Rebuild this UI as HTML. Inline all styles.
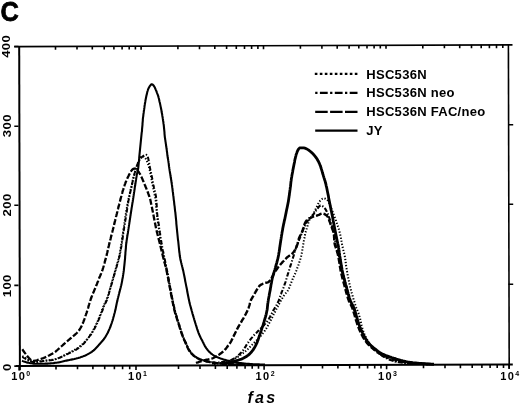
<!DOCTYPE html>
<html><head><meta charset="utf-8"><style>
html,body{margin:0;padding:0;background:#fff;}
body{width:520px;height:405px;overflow:hidden;}
svg{display:block;}
text{font-family:"Liberation Sans",Arial,sans-serif;font-weight:bold;fill:#000;}
</style></head><body>
<svg width="520" height="405" viewBox="0 0 520 405">
<rect width="520" height="405" fill="#fff"/>
<g fill="none" stroke="#000" stroke-linecap="butt">
<path d="M19.2,46.2L19.9,370.2" stroke-width="2"/>
<path d="M14.2,46.6L512.5,44.9" stroke-width="1.6"/>
<path d="M508.4,44.9L509.2,368.5" stroke-width="1.6"/>
<path d="M16,366L512.8,364.5" stroke-width="1.9"/>
<path d="M56.0,365.6V369.4 M77.5,365.5V369.3 M92.9,365.5V369.3 M104.7,365.4V369.2 M114.4,365.4V369.2 M122.6,365.4V369.2 M129.7,365.4V369.2 M136.0,365.3V369.9 M178.5,365.2V369.0 M200.0,365.1V368.9 M215.4,365.1V368.9 M227.2,365.1V368.9 M236.9,365.0V368.8 M245.1,365.0V368.8 M252.2,365.0V368.8 M258.5,365.0V368.8 M301.0,364.8V368.6 M322.5,364.8V368.6 M337.9,364.7V368.5 M349.7,364.7V368.5 M359.4,364.7V368.5 M367.6,364.6V368.4 M374.7,364.6V368.4 M381.0,364.6V368.4 M423.5,364.5V368.3 M445.0,364.4V368.2 M460.4,364.4V368.2 M472.2,364.3V368.1 M481.9,364.3V368.1 M490.1,364.3V368.1 M497.2,364.2V368.0 M503.5,364.2V368.0 M19.1,365.7V370.4 M264.1,365.0V369.7 M386.6,364.6V369.3 M509.1,364.2V368.9 M55.5,46.2V49.7 M77.0,46.1V49.6 M92.3,46.0V49.5 M104.2,46.0V49.5 M113.9,46.0V49.5 M122.1,45.9V49.4 M129.2,45.9V49.4 M135.4,45.9V49.4 M177.9,45.7V49.2 M199.5,45.7V49.2 M214.8,45.6V49.1 M226.6,45.6V49.1 M236.3,45.5V49.0 M244.5,45.5V49.0 M251.6,45.5V49.0 M257.9,45.5V49.0 M300.4,45.3V48.8 M321.9,45.3V48.8 M337.2,45.2V48.7 M349.1,45.2V48.7 M358.8,45.1V48.6 M367.0,45.1V48.6 M374.1,45.1V48.6 M380.3,45.1V48.6 M422.8,44.9V48.4 M444.4,44.8V48.3 M459.7,44.8V48.3 M471.5,44.7V48.2 M481.2,44.7V48.2 M489.4,44.7V48.2 M496.5,44.7V48.2 M502.8,44.6V48.1 M141.1,45.9V49.7 M263.5,45.4V49.2 M386.0,45.0V48.8 M14.3,46.5H18.5 M14.3,126.3H18.5 M14.3,205.2H18.5 M14.3,285.4H18.5 M14.3,366.1H18.5 M508.4,124.8H513.2 M508.4,204.3H513.2 M508.4,284.2H513.2" stroke-width="1.6"/>
</g>
<text transform="translate(0.40,20.80) scale(0.900,1)" font-size="28.20" stroke="#000" stroke-width="0.80">C</text>
<text transform="translate(10.30,46.30) rotate(-90) scale(1.170,1)" text-anchor="middle" font-size="11.30" letter-spacing="0.30">400</text>
<text transform="translate(10.50,125.70) rotate(-90) scale(1.170,1)" text-anchor="middle" font-size="11.30" letter-spacing="0.30">300</text>
<text transform="translate(10.70,204.95) rotate(-90) scale(1.170,1)" text-anchor="middle" font-size="11.30" letter-spacing="0.30">200</text>
<text transform="translate(11.10,285.75) rotate(-90) scale(1.170,1)" text-anchor="middle" font-size="11.30" letter-spacing="0.30">100</text>
<text transform="translate(11.00,367.25) rotate(-90) scale(1.170,1)" text-anchor="middle" font-size="11.30" letter-spacing="0.30">0</text>
<text x="11.20" y="379.80" font-size="11.00" letter-spacing="1.40">10<tspan font-size="7.00" dy="-3.40">0</tspan></text>
<text x="128.00" y="379.80" font-size="11.00" letter-spacing="1.40">10<tspan font-size="7.00" dy="-3.40">1</tspan></text>
<text x="255.60" y="379.80" font-size="11.00" letter-spacing="1.40">10<tspan font-size="7.00" dy="-3.40">2</tspan></text>
<text x="378.00" y="379.80" font-size="11.00" letter-spacing="1.40">10<tspan font-size="7.00" dy="-3.40">3</tspan></text>
<text x="500.30" y="379.80" font-size="11.00" letter-spacing="1.40">10<tspan font-size="7.00" dy="-3.40">4</tspan></text>
<text x="247.50" y="403.20" font-size="16.00" font-style="italic" letter-spacing="2.20">fas</text>
<text transform="translate(366.30,78.60) scale(1.087,1)" font-size="12.00" letter-spacing="0.25">HSC536N</text>
<text transform="translate(366.30,97.30) scale(1.087,1)" font-size="12.00" letter-spacing="0.25">HSC536N neo</text>
<text transform="translate(366.30,116.00) scale(1.087,1)" font-size="12.00" letter-spacing="0.25">HSC536N FAC/neo</text>
<text transform="translate(366.30,134.70) scale(1.087,1)" font-size="12.00" letter-spacing="0.25">JY</text>
<g fill="none" stroke="#000" stroke-width="2.2">
<path d="M314.8,73.9H357.5" stroke-dasharray="2.6 2.4"/>
<path d="M315.2,92.9H357.5" stroke-dasharray="2.3 2.4 7.8 2.4"/>
<path d="M315.2,111.8H357.5" stroke-dasharray="12.5 2.4"/>
<path d="M315.2,130.6H357.5"/>
</g>
<g fill="none" stroke="#000" stroke-linejoin="round">
<path d="M22.3,356.0 23.2,356.5 24.0,357.0 24.9,357.5 25.8,358.0 26.6,358.5 27.5,359.1 28.3,359.6 29.1,360.2 30.0,360.7 30.9,361.1 31.9,361.3 32.8,361.6 33.8,361.7 34.8,361.8 35.8,361.8 36.8,361.7 37.8,361.5 38.8,361.4 39.8,361.2 40.8,361.1 41.8,361.0 42.8,360.9 43.8,360.8 44.8,360.6 45.8,360.5 46.8,360.4 47.8,360.3 48.8,360.2 49.8,360.1 50.8,360.0 51.7,359.8 52.7,359.7 53.7,359.5 54.7,359.2 55.7,359.0 56.6,358.6 57.6,358.3 58.5,358.0 59.4,357.6 60.4,357.2 61.3,356.8 62.2,356.4 63.1,355.9 64.0,355.5 64.9,355.0 65.7,354.6 66.6,354.1 67.5,353.6 68.4,353.2 69.3,352.7 70.2,352.2 71.1,351.8 72.0,351.3 72.9,350.9 73.8,350.4 74.6,349.9 75.5,349.4 76.4,348.9 77.2,348.4 78.0,347.8 78.8,347.2 79.6,346.6 80.4,346.0 81.2,345.4 82.0,344.7 82.7,344.0 83.4,343.3 84.1,342.6 84.8,341.9 85.5,341.1 86.1,340.4 86.8,339.6 87.4,338.8 88.0,338.1 88.7,337.3 89.2,336.5 89.8,335.6 90.4,334.8 91.0,334.0 91.5,333.1 92.0,332.3 92.5,331.4 93.1,330.6 93.5,329.7 94.0,328.8 94.5,327.9 94.9,327.0 95.4,326.1 95.8,325.2 96.2,324.3 96.7,323.4 97.1,322.5 97.5,321.6 97.9,320.7 98.3,319.7 98.6,318.8 99.0,317.9 99.4,316.9 99.7,316.0 100.1,315.1 100.5,314.1 100.8,313.2 101.2,312.3 101.5,311.3 101.9,310.4 102.3,309.5 102.6,308.5 103.0,307.6 103.3,306.7 103.7,305.7 104.1,304.8 104.5,303.9 104.9,303.0 105.4,302.1 105.8,301.1 106.2,300.2 106.5,299.3 106.9,298.4 107.2,297.4 107.5,296.5 107.9,295.5 108.2,294.6 108.5,293.6 108.8,292.7 109.1,291.7 109.4,290.7 109.7,289.8 110.0,288.8 110.3,287.9 110.6,286.9 110.9,286.0 111.1,285.0 111.4,284.0 111.7,283.1 112.0,282.1 112.2,281.1 112.5,280.2 112.8,279.2 113.1,278.2 113.3,277.3 113.6,276.3 113.9,275.4 114.2,274.4 114.5,273.4 114.7,272.5 115.0,271.5 115.3,270.5 115.6,269.6 115.8,268.6 116.1,267.6 116.4,266.7 116.7,265.7 116.9,264.8 117.2,263.8 117.5,262.8 117.8,261.9 118.1,260.9 118.3,259.9 118.6,259.0 118.8,258.0 119.1,257.0 119.3,256.1 119.5,255.1 119.7,254.1 119.9,253.1 120.0,252.1 120.2,251.1 120.4,250.1 120.5,249.1 120.7,248.2 120.8,247.2 121.0,246.2 121.1,245.2 121.3,244.2 121.5,243.2 121.6,242.2 121.8,241.2 121.9,240.2 122.1,239.2 122.2,238.3 122.4,237.3 122.5,236.3 122.6,235.3 122.8,234.3 122.9,233.3 123.1,232.3 123.2,231.3 123.4,230.3 123.5,229.3 123.7,228.3 123.8,227.3 124.0,226.4 124.1,225.4 124.2,224.4 124.4,223.4 124.5,222.4 124.7,221.4 124.8,220.4 125.0,219.4 125.1,218.4 125.3,217.4 125.4,216.4 125.6,215.4 125.7,214.5 125.9,213.5 126.1,212.5 126.2,211.5 126.4,210.5 126.5,209.5 126.7,208.5 126.9,207.5 127.1,206.6 127.2,205.6 127.4,204.6 127.6,203.6 127.8,202.6 128.0,201.6 128.2,200.6 128.4,199.7 128.6,198.7 128.8,197.7 129.0,196.7 129.3,195.7 129.5,194.8 129.7,193.8 129.9,192.8 130.2,191.8 130.4,190.9 130.6,189.9 130.9,188.9 131.1,187.9 131.3,187.0 131.6,186.0 131.8,185.0 132.0,184.0 132.2,183.1 132.4,182.1 132.6,181.1 132.8,180.1 133.1,179.1 133.3,178.2 133.5,177.2 133.7,176.2 134.0,175.2 134.3,174.3 134.5,173.3 134.8,172.3 135.1,171.4 135.4,170.4 135.7,169.5 136.0,168.5 136.3,167.6 136.6,166.6 136.9,165.7 137.2,164.7 137.5,163.8 137.9,162.8 138.2,161.9 138.6,161.0 139.0,160.0 139.4,159.1 139.9,158.2 140.5,157.4 141.3,156.8 142.2,156.3 143.1,156.4 144.0,156.9 144.8,157.5 145.4,158.3 146.0,159.1 146.5,160.0 146.9,160.9 147.2,161.9 147.6,162.8 147.9,163.8 148.2,164.7 148.5,165.7 148.8,166.6 149.1,167.6 149.3,168.6 149.6,169.5 149.8,170.5 150.0,171.5 150.2,172.5 150.4,173.5 150.6,174.4 150.8,175.4 151.0,176.4 151.2,177.4 151.4,178.4 151.6,179.4 151.7,180.4 151.9,181.3 152.1,182.3 152.3,183.3 152.5,184.3 152.7,185.3 152.9,186.3 153.1,187.2 153.3,188.2 153.5,189.2 153.7,190.2 153.9,191.2 154.1,192.1 154.3,193.1 154.5,194.1 154.7,195.1 154.9,196.1 155.1,197.0 155.3,198.0 155.5,199.0 155.6,200.0 155.7,201.0 155.8,202.0 155.9,203.0 156.0,204.0 156.1,205.0 156.2,206.0 156.2,207.0 156.3,208.0 156.4,209.0 156.5,210.0 156.6,211.0 156.7,212.0 156.8,213.0 156.9,214.0 157.0,215.0 157.1,216.0 157.2,217.0 157.4,218.0 157.5,219.0 157.6,220.0 157.8,220.9 157.9,221.9 158.0,222.9 158.2,223.9 158.3,224.9 158.5,225.9 158.6,226.9 158.8,227.9 158.9,228.9 159.1,229.9 159.2,230.9 159.3,231.9 159.5,232.9 159.6,233.8 159.8,234.8 159.9,235.8 160.0,236.8 160.2,237.8 160.3,238.8 160.5,239.8 160.6,240.8 160.8,241.8 161.0,242.8 161.1,243.8 161.3,244.7 161.5,245.7 161.6,246.7 161.8,247.7 162.0,248.7 162.2,249.7 162.3,250.7 162.5,251.6 162.7,252.6 162.9,253.6 163.1,254.6 163.3,255.6 163.5,256.6 163.7,257.5 163.9,258.5 164.1,259.5 164.3,260.5 164.5,261.5 164.8,262.4 165.0,263.4 165.3,264.4 165.5,265.4 165.7,266.3 166.0,267.3 166.2,268.3 166.4,269.3 166.7,270.2 166.9,271.2 167.1,272.2 167.3,273.2 167.5,274.2 167.7,275.1 167.9,276.1 168.1,277.1 168.2,278.1 168.4,279.1 168.6,280.1 168.8,281.0 169.0,282.0 169.2,283.0 169.4,284.0 169.5,285.0 169.7,286.0 169.9,287.0 170.1,287.9 170.3,288.9 170.5,289.9 170.7,290.9 170.8,291.9 171.0,292.9 171.2,293.9 171.4,294.8 171.6,295.8 171.8,296.8 172.0,297.8 172.1,298.8 172.3,299.8 172.5,300.7 172.8,301.7 173.0,302.7 173.2,303.7 173.4,304.7 173.6,305.6 173.8,306.6 174.1,307.6 174.3,308.6 174.5,309.5 174.8,310.5 175.0,311.5 175.3,312.4 175.6,313.4 175.8,314.4 176.1,315.3 176.4,316.3 176.7,317.2 177.0,318.2 177.3,319.2 177.6,320.1 177.9,321.1 178.2,322.0 178.5,323.0 178.8,323.9 179.1,324.9 179.4,325.9 179.7,326.8 180.0,327.8 180.3,328.7 180.6,329.7 180.9,330.7 181.2,331.6 181.5,332.6 181.8,333.5 182.2,334.4 182.5,335.4 182.9,336.3 183.2,337.3 183.6,338.2 184.0,339.1 184.4,340.0 184.8,340.9 185.2,341.9 185.6,342.8 186.0,343.7 186.4,344.6 186.9,345.5 187.3,346.4 187.7,347.3 188.1,348.2 188.6,349.1 189.0,350.0 189.6,350.9 190.1,351.7 190.8,352.5 191.4,353.2 192.1,354.0 192.8,354.7 193.5,355.4 194.3,356.0 195.1,356.6 195.9,357.2 196.8,357.7 197.7,358.2 198.6,358.6 199.5,359.0 200.4,359.4 201.3,359.8 202.3,360.1 203.2,360.4 204.2,360.7 205.2,361.0 206.1,361.2 207.1,361.4 208.1,361.7 209.1,361.9 210.1,362.0 211.0,362.2 212.0,362.4 213.0,362.5 214.0,362.7 215.0,362.8 216.0,362.9 217.0,363.1 218.0,363.2 219.0,363.3 220.0,363.4 221.0,363.5 222.0,363.6 223.0,363.7 224.0,363.8 225.0,363.9 226.0,363.9 227.0,364.0 228.0,364.1 229.0,364.1 230.0,364.2 231.0,364.2 232.0,364.3 233.0,364.3 234.0,364.4 235.0,364.4 236.0,364.5 237.0,364.5 238.0,364.5 239.0,364.6 240.0,364.6 241.0,364.6 242.0,364.6 243.0,364.7 244.0,364.7 245.0,364.7" stroke-width="2" stroke-dasharray="1.3 1.8"/>
<path d="M22.3,357.0 23.2,357.5 24.0,358.0 24.9,358.5 25.8,359.0 26.7,359.4 27.6,359.9 28.4,360.5 29.3,361.0 30.2,361.4 31.2,361.6 32.1,361.8 33.1,361.9 34.1,362.0 35.1,362.0 36.1,362.0 37.1,361.9 38.1,361.7 39.1,361.6 40.1,361.5 41.1,361.4 42.1,361.2 43.1,361.1 44.1,360.9 45.1,360.8 46.1,360.7 47.1,360.6 48.1,360.5 49.1,360.4 50.1,360.3 51.1,360.2 52.1,360.1 53.1,359.9 54.1,359.7 55.0,359.4 56.0,359.1 56.9,358.8 57.9,358.4 58.8,358.1 59.7,357.7 60.7,357.3 61.6,356.9 62.5,356.5 63.4,356.0 64.3,355.6 65.2,355.2 66.1,354.7 67.0,354.3 67.9,353.8 68.8,353.4 69.7,352.9 70.6,352.5 71.5,352.1 72.4,351.6 73.3,351.2 74.2,350.7 75.1,350.3 75.9,349.8 76.8,349.2 77.6,348.7 78.5,348.1 79.3,347.5 80.1,346.9 80.8,346.3 81.6,345.6 82.4,344.9 83.1,344.2 83.8,343.5 84.4,342.8 85.1,342.0 85.7,341.2 86.4,340.5 87.0,339.7 87.6,338.9 88.2,338.1 88.8,337.3 89.4,336.5 90.0,335.7 90.6,334.9 91.2,334.1 91.8,333.2 92.3,332.4 92.9,331.5 93.4,330.7 93.9,329.8 94.3,328.9 94.8,328.0 95.3,327.1 95.7,326.2 96.1,325.3 96.6,324.4 97.0,323.5 97.4,322.6 97.8,321.7 98.2,320.8 98.6,319.9 99.0,318.9 99.4,318.0 99.8,317.1 100.2,316.2 100.5,315.2 100.9,314.3 101.3,313.4 101.7,312.4 102.0,311.5 102.4,310.6 102.7,309.6 103.1,308.7 103.4,307.7 103.8,306.8 104.1,305.9 104.5,304.9 105.0,304.0 105.4,303.1 105.9,302.3 106.3,301.4 106.8,300.4 107.1,299.5 107.5,298.6 107.8,297.6 108.1,296.6 108.3,295.7 108.6,294.7 108.9,293.7 109.1,292.8 109.4,291.8 109.6,290.8 109.9,289.9 110.2,288.9 110.4,287.9 110.7,287.0 111.0,286.0 111.3,285.0 111.6,284.1 111.8,283.1 112.1,282.2 112.4,281.2 112.7,280.2 113.0,279.3 113.2,278.3 113.5,277.3 113.8,276.4 114.1,275.4 114.4,274.4 114.6,273.5 114.9,272.5 115.2,271.6 115.5,270.6 115.7,269.6 116.0,268.7 116.3,267.7 116.6,266.7 116.8,265.8 117.1,264.8 117.4,263.8 117.7,262.9 118.0,261.9 118.3,261.0 118.5,260.0 118.8,259.0 119.0,258.0 119.3,257.1 119.5,256.1 119.7,255.1 119.9,254.1 120.1,253.1 120.3,252.2 120.5,251.2 120.7,250.2 120.8,249.2 121.0,248.2 121.2,247.2 121.4,246.2 121.5,245.2 121.7,244.3 121.9,243.3 122.0,242.3 122.2,241.3 122.3,240.3 122.5,239.3 122.6,238.3 122.8,237.3 122.9,236.3 123.0,235.3 123.2,234.3 123.3,233.3 123.5,232.3 123.6,231.4 123.8,230.4 123.9,229.4 124.1,228.4 124.2,227.4 124.4,226.4 124.5,225.4 124.7,224.4 124.9,223.4 125.0,222.4 125.2,221.4 125.3,220.5 125.5,219.5 125.7,218.5 125.8,217.5 126.0,216.5 126.2,215.5 126.3,214.5 126.5,213.5 126.6,212.5 126.8,211.5 126.9,210.6 127.1,209.6 127.2,208.6 127.4,207.6 127.5,206.6 127.7,205.6 127.9,204.6 128.0,203.6 128.2,202.6 128.3,201.6 128.5,200.6 128.7,199.7 128.9,198.7 129.1,197.7 129.3,196.7 129.5,195.7 129.7,194.7 129.9,193.8 130.2,192.8 130.4,191.8 130.6,190.8 130.8,189.9 131.0,188.9 131.3,187.9 131.5,186.9 131.7,185.9 131.9,185.0 132.1,184.0 132.3,183.0 132.5,182.0 132.8,181.0 133.0,180.1 133.2,179.1 133.4,178.1 133.7,177.1 133.9,176.1 134.1,175.2 134.4,174.2 134.6,173.2 134.9,172.3 135.1,171.3 135.4,170.3 135.7,169.4 136.0,168.4 136.3,167.5 136.6,166.5 137.0,165.6 137.3,164.6 137.7,163.7 138.1,162.8 138.6,161.9 139.0,161.0 139.6,160.1 140.1,159.3 140.7,158.5 141.3,157.7 142.0,157.0 142.8,156.3 143.6,155.7 144.4,155.2 145.4,155.0 146.4,154.8 147.2,155.4 147.6,156.3 147.9,157.2 148.2,158.2 148.4,159.2 148.6,160.1 148.8,161.1 149.0,162.1 149.2,163.1 149.3,164.1 149.5,165.1 149.7,166.1 149.8,167.1 150.0,168.0 150.2,169.0 150.4,170.0 150.6,171.0 150.9,172.0 151.1,173.0 151.3,173.9 151.5,174.9 151.7,175.9 151.9,176.9 152.1,177.9 152.3,178.8 152.5,179.8 152.6,180.8 152.8,181.8 153.0,182.8 153.1,183.8 153.3,184.8 153.6,185.8 153.8,186.7 154.0,187.7 154.3,188.7 154.6,189.6 154.8,190.6 155.0,191.6 155.2,192.6 155.4,193.6 155.6,194.5 155.8,195.5 155.9,196.5 156.1,197.5 156.2,198.5 156.3,199.5 156.4,200.5 156.5,201.5 156.5,202.5 156.6,203.5 156.7,204.5 156.7,205.5 156.8,206.5 156.8,207.5 156.9,208.5 156.9,209.5 157.0,210.5 157.1,211.5 157.1,212.5 157.2,213.5 157.3,214.5 157.4,215.5 157.5,216.5 157.7,217.5 157.8,218.5 157.9,219.5 158.1,220.5 158.3,221.5 158.4,222.5 158.6,223.5 158.7,224.5 158.9,225.4 159.0,226.4 159.2,227.4 159.3,228.4 159.5,229.4 159.6,230.4 159.8,231.4 159.9,232.4 160.1,233.4 160.2,234.4 160.3,235.4 160.5,236.4 160.6,237.4 160.8,238.4 160.9,239.3 161.1,240.3 161.2,241.3 161.4,242.3 161.5,243.3 161.7,244.3 161.9,245.3 162.1,246.3 162.3,247.3 162.5,248.2 162.6,249.2 162.8,250.2 163.1,251.2 163.3,252.2 163.5,253.2 163.7,254.1 163.9,255.1 164.1,256.1 164.3,257.1 164.5,258.1 164.7,259.0 164.9,260.0 165.1,261.0 165.3,262.0 165.5,263.0 165.7,264.0 165.9,264.9 166.1,265.9 166.3,266.9 166.5,267.9 166.7,268.9 166.9,269.9 167.1,270.8 167.3,271.8 167.5,272.8 167.7,273.8 167.8,274.8 168.0,275.8 168.2,276.8 168.4,277.7 168.6,278.7 168.8,279.7 168.9,280.7 169.1,281.7 169.3,282.7 169.5,283.7 169.7,284.7 169.9,285.6 170.1,286.6 170.2,287.6 170.4,288.6 170.6,289.6 170.8,290.6 171.0,291.6 171.2,292.5 171.3,293.5 171.5,294.5 171.7,295.5 171.9,296.5 172.1,297.5 172.3,298.5 172.5,299.4 172.7,300.4 172.9,301.4 173.1,302.4 173.3,303.4 173.5,304.3 173.7,305.3 174.0,306.3 174.2,307.3 174.4,308.3 174.7,309.2 174.9,310.2 175.1,311.2 175.4,312.1 175.7,313.1 176.0,314.1 176.2,315.0 176.5,316.0 176.8,317.0 177.1,317.9 177.4,318.9 177.7,319.8 178.0,320.8 178.3,321.7 178.6,322.7 178.9,323.7 179.2,324.6 179.5,325.6 179.8,326.5 180.1,327.5 180.4,328.5 180.7,329.4 181.0,330.4 181.3,331.3 181.6,332.3 181.9,333.2 182.3,334.2 182.6,335.1 183.0,336.1 183.3,337.0 183.7,337.9 184.1,338.8 184.5,339.8 184.9,340.7 185.3,341.6 185.7,342.5 186.1,343.4 186.5,344.3 186.9,345.3 187.4,346.2 187.8,347.1 188.2,348.0 188.6,348.9 189.1,349.8 189.6,350.6 190.2,351.5 190.8,352.3 191.4,353.1 192.1,353.8 192.8,354.5 193.5,355.2 194.3,355.9 195.1,356.5 195.9,357.0 196.8,357.6 197.6,358.1 198.5,358.5 199.4,358.9 200.4,359.3 201.3,359.7 202.3,360.0 203.2,360.3 204.2,360.6 205.1,360.9 206.1,361.2 207.1,361.4 208.1,361.6 209.0,361.8 210.0,362.0 211.0,362.2 212.0,362.3 213.0,362.5 214.0,362.6 215.0,362.8 216.0,362.9 217.0,363.0 218.0,363.2 219.0,363.3 220.0,363.4 221.0,363.5 222.0,363.6 223.0,363.7 224.0,363.8 225.0,363.9 226.0,363.9 227.0,364.0 228.0,364.1 229.0,364.1 230.0,364.2 231.0,364.2 232.0,364.3 233.0,364.3 234.0,364.4 235.0,364.4 236.0,364.5 237.0,364.5 238.0,364.5 239.0,364.6 240.0,364.6 241.0,364.6 242.0,364.6 243.0,364.7 244.0,364.7 245.0,364.7" stroke-width="2" stroke-dasharray="4.5 1.8 1.3 1.8"/>
<path d="M22.3,349.3 22.9,350.1 23.4,351.0 24.0,351.8 24.6,352.6 25.2,353.4 25.8,354.2 26.4,355.0 27.0,355.8 27.6,356.6 28.3,357.3 29.0,358.1 29.7,358.8 30.4,359.5 31.1,360.2 32.0,360.7 33.0,360.8 34.0,360.8 35.0,360.7 36.0,360.6 36.9,360.3 37.9,359.9 38.8,359.6 39.8,359.3 40.7,359.0 41.7,358.7 42.6,358.3 43.6,358.0 44.5,357.6 45.4,357.2 46.3,356.8 47.2,356.4 48.1,355.9 49.0,355.5 49.9,355.0 50.8,354.5 51.7,354.0 52.5,353.6 53.4,353.1 54.3,352.5 55.1,352.0 55.9,351.3 56.6,350.7 57.4,350.0 58.1,349.3 58.9,348.7 59.6,348.0 60.3,347.3 61.1,346.6 61.8,346.0 62.6,345.3 63.3,344.6 64.1,344.0 64.8,343.3 65.6,342.6 66.3,342.0 67.1,341.3 67.9,340.7 68.6,340.0 69.4,339.4 70.2,338.7 70.9,338.1 71.7,337.4 72.4,336.8 73.2,336.1 74.0,335.5 74.8,334.8 75.5,334.2 76.3,333.5 77.0,332.8 77.6,332.1 78.3,331.3 78.9,330.5 79.5,329.7 80.0,328.8 80.5,328.0 81.0,327.1 81.5,326.2 81.9,325.3 82.3,324.4 82.7,323.5 83.1,322.5 83.5,321.6 83.8,320.7 84.2,319.7 84.5,318.8 84.8,317.8 85.2,316.9 85.5,315.9 85.8,315.0 86.1,314.0 86.5,313.1 86.8,312.1 87.1,311.2 87.4,310.2 87.7,309.3 88.0,308.3 88.3,307.3 88.5,306.4 88.8,305.4 89.1,304.5 89.4,303.5 89.7,302.5 90.0,301.6 90.3,300.6 90.6,299.7 90.9,298.7 91.3,297.8 91.6,296.8 92.0,295.9 92.3,295.0 92.7,294.0 93.1,293.1 93.5,292.2 93.9,291.3 94.3,290.3 94.7,289.4 95.1,288.5 95.5,287.6 95.8,286.7 96.2,285.7 96.6,284.8 97.0,283.9 97.3,282.9 97.7,282.0 98.1,281.1 98.4,280.1 98.8,279.2 99.1,278.2 99.5,277.3 99.9,276.4 100.3,275.5 100.7,274.5 101.1,273.6 101.4,272.7 101.8,271.8 102.2,270.8 102.5,269.9 102.8,268.9 103.1,268.0 103.4,267.0 103.7,266.0 103.9,265.1 104.2,264.1 104.5,263.1 104.7,262.2 105.0,261.2 105.3,260.2 105.5,259.3 105.8,258.3 106.1,257.3 106.3,256.4 106.6,255.4 106.8,254.4 107.0,253.4 107.3,252.5 107.5,251.5 107.7,250.5 107.9,249.5 108.2,248.6 108.4,247.6 108.6,246.6 108.9,245.6 109.1,244.6 109.3,243.7 109.6,242.7 109.8,241.7 110.1,240.8 110.3,239.8 110.6,238.8 110.8,237.8 111.0,236.9 111.3,235.9 111.5,234.9 111.8,234.0 112.0,233.0 112.3,232.0 112.5,231.0 112.8,230.1 113.0,229.1 113.3,228.1 113.5,227.1 113.8,226.2 114.0,225.2 114.2,224.2 114.5,223.2 114.7,222.3 114.9,221.3 115.2,220.3 115.4,219.4 115.7,218.4 115.9,217.4 116.1,216.4 116.4,215.5 116.6,214.5 116.9,213.5 117.1,212.5 117.4,211.6 117.6,210.6 117.8,209.6 118.1,208.6 118.3,207.7 118.6,206.7 118.8,205.7 119.1,204.8 119.3,203.8 119.6,202.8 119.8,201.8 120.1,200.9 120.3,199.9 120.6,198.9 120.8,198.0 121.1,197.0 121.4,196.0 121.6,195.1 121.9,194.1 122.2,193.1 122.4,192.2 122.7,191.2 123.0,190.2 123.3,189.3 123.6,188.3 123.9,187.4 124.2,186.4 124.5,185.5 124.8,184.5 125.2,183.6 125.5,182.6 125.9,181.7 126.3,180.8 126.7,179.8 127.1,178.9 127.5,178.0 127.9,177.1 128.4,176.2 128.8,175.3 129.3,174.4 129.8,173.5 130.3,172.7 130.7,171.8 131.3,170.9 131.9,170.1 132.6,169.4 133.3,168.8 134.3,168.5 135.2,168.8 136.1,169.4 136.9,169.9 137.6,170.7 138.3,171.4 138.9,172.2 139.4,173.1 139.9,173.9 140.4,174.8 140.8,175.7 141.2,176.6 141.7,177.5 142.1,178.4 142.5,179.3 142.9,180.3 143.3,181.2 143.7,182.1 144.1,183.0 144.5,184.0 144.8,184.9 145.2,185.8 145.6,186.8 146.0,187.7 146.4,188.6 146.7,189.5 147.1,190.5 147.5,191.4 147.8,192.3 148.2,193.3 148.5,194.2 148.9,195.2 149.2,196.1 149.5,197.1 149.8,198.0 150.1,199.0 150.4,200.0 150.6,200.9 150.8,201.9 151.0,202.9 151.2,203.9 151.4,204.9 151.6,205.8 151.8,206.8 152.0,207.8 152.2,208.8 152.4,209.8 152.6,210.8 152.8,211.7 153.0,212.7 153.2,213.7 153.4,214.7 153.6,215.7 153.8,216.7 153.9,217.6 154.1,218.6 154.3,219.6 154.5,220.6 154.7,221.6 154.9,222.6 155.1,223.6 155.3,224.5 155.5,225.5 155.7,226.5 155.9,227.5 156.1,228.5 156.3,229.4 156.6,230.4 156.8,231.4 157.0,232.4 157.3,233.3 157.5,234.3 157.8,235.3 158.0,236.3 158.2,237.2 158.5,238.2 158.7,239.2 159.0,240.2 159.2,241.1 159.5,242.1 159.7,243.1 160.0,244.0 160.2,245.0 160.4,246.0 160.7,247.0 160.9,247.9 161.1,248.9 161.4,249.9 161.6,250.9 161.8,251.8 162.1,252.8 162.3,253.8 162.6,254.8 162.8,255.7 163.0,256.7 163.3,257.7 163.5,258.7 163.8,259.6 164.0,260.6 164.3,261.6 164.5,262.5 164.8,263.5 165.1,264.5 165.3,265.5 165.6,266.4 165.8,267.4 166.0,268.4 166.3,269.4 166.5,270.3 166.7,271.3 166.9,272.3 167.1,273.3 167.3,274.3 167.5,275.2 167.7,276.2 167.9,277.2 168.1,278.2 168.3,279.2 168.4,280.2 168.6,281.2 168.8,282.1 169.0,283.1 169.2,284.1 169.4,285.1 169.6,286.1 169.7,287.1 169.9,288.0 170.1,289.0 170.3,290.0 170.5,291.0 170.7,292.0 170.8,293.0 171.0,294.0 171.2,295.0 171.4,295.9 171.6,296.9 171.8,297.9 172.0,298.9 172.2,299.9 172.4,300.9 172.6,301.8 172.8,302.8 173.0,303.8 173.2,304.8 173.4,305.8 173.6,306.7 173.8,307.7 174.0,308.7 174.3,309.7 174.5,310.7 174.8,311.6 175.0,312.6 175.3,313.6 175.6,314.5 175.9,315.5 176.2,316.4 176.5,317.4 176.8,318.3 177.1,319.3 177.4,320.2 177.8,321.2 178.1,322.2 178.4,323.1 178.6,324.1 178.9,325.0 179.2,326.0 179.5,327.0 179.8,327.9 180.1,328.9 180.4,329.8 180.7,330.8 181.0,331.7 181.3,332.7 181.7,333.6 182.0,334.6 182.4,335.5 182.7,336.5 183.1,337.4 183.5,338.3 183.9,339.2 184.3,340.2 184.7,341.1 185.1,342.0 185.5,342.9 185.9,343.8 186.3,344.7 186.7,345.7 187.1,346.6 187.5,347.5 188.0,348.4 188.4,349.3 188.9,350.1 189.5,351.0 190.0,351.8 190.7,352.6 191.3,353.4 192.0,354.1 192.7,354.8 193.4,355.5 194.2,356.1 195.0,356.7 195.9,357.3 196.7,357.8 197.6,358.3 198.5,358.7 199.4,359.1 200.4,359.5 201.3,359.8 202.2,360.2 203.2,360.5 204.2,360.8 205.1,361.0 206.1,361.3 207.1,361.5 208.1,361.7 209.0,361.9 210.0,362.1 211.0,362.2 212.0,362.4 213.0,362.6 214.0,362.7 215.0,362.8 216.0,363.0 217.0,363.1 218.0,363.2 219.0,363.3 220.0,363.4 221.0,363.5 222.0,363.6 223.0,363.7 224.0,363.8 225.0,363.9 226.0,364.0 227.0,364.0 228.0,364.1 229.0,364.1 230.0,364.2 231.0,364.2 232.0,364.3 233.0,364.3 234.0,364.4 235.0,364.4 236.0,364.5 237.0,364.5 238.0,364.5 239.0,364.6 240.0,364.6 241.0,364.6 242.0,364.6 243.0,364.7 244.0,364.7 245.0,364.7" stroke-width="2.3" stroke-dasharray="6 2"/>
<path d="M22.0,360.7 22.9,361.1 23.9,361.5 24.8,361.8 25.7,362.1 26.7,362.4 27.7,362.6 28.7,362.8 29.7,363.0 30.6,363.2 31.6,363.3 32.6,363.4 33.6,363.6 34.6,363.7 35.6,363.8 36.6,363.8 37.6,363.8 38.6,363.8 39.6,363.8 40.6,363.8 41.6,363.7 42.6,363.7 43.6,363.7 44.6,363.7 45.6,363.6 46.6,363.6 47.6,363.6 48.6,363.5 49.6,363.5 50.6,363.4 51.6,363.3 52.6,363.2 53.6,363.1 54.6,362.9 55.6,362.8 56.6,362.7 57.6,362.5 58.6,362.4 59.6,362.2 60.6,361.9 61.5,361.7 62.5,361.5 63.5,361.2 64.5,361.0 65.4,360.8 66.4,360.6 67.4,360.4 68.4,360.2 69.4,360.0 70.4,359.8 71.3,359.6 72.3,359.4 73.3,359.2 74.3,359.0 75.3,358.7 76.2,358.5 77.2,358.2 78.2,358.0 79.1,357.7 80.1,357.4 81.0,357.1 82.0,356.7 82.9,356.4 83.9,356.0 84.8,355.7 85.7,355.3 86.6,354.8 87.5,354.4 88.4,353.9 89.3,353.4 90.1,352.9 91.0,352.3 91.8,351.8 92.6,351.2 93.4,350.6 94.2,349.9 94.9,349.2 95.6,348.5 96.3,347.8 97.0,347.1 97.7,346.3 98.3,345.6 99.0,344.8 99.7,344.1 100.3,343.3 101.0,342.6 101.6,341.8 102.3,341.1 102.9,340.3 103.6,339.5 104.2,338.7 104.7,337.9 105.3,337.1 105.8,336.2 106.3,335.3 106.8,334.5 107.3,333.6 107.8,332.7 108.2,331.8 108.6,330.9 109.0,330.0 109.4,329.1 109.8,328.1 110.2,327.2 110.6,326.3 110.9,325.3 111.2,324.4 111.6,323.4 111.9,322.5 112.2,321.5 112.5,320.6 112.8,319.6 113.1,318.6 113.3,317.7 113.6,316.7 113.9,315.8 114.1,314.8 114.4,313.8 114.7,312.8 114.9,311.9 115.1,310.9 115.4,309.9 115.6,309.0 115.8,308.0 116.0,307.0 116.2,306.0 116.4,305.0 116.6,304.0 116.8,303.1 117.0,302.1 117.3,301.1 117.5,300.1 117.7,299.1 117.9,298.2 118.2,297.2 118.4,296.2 118.7,295.3 118.9,294.3 119.2,293.3 119.4,292.3 119.7,291.4 119.9,290.4 120.2,289.4 120.4,288.5 120.7,287.5 120.9,286.5 121.2,285.5 121.4,284.6 121.6,283.6 121.8,282.6 122.0,281.6 122.2,280.6 122.3,279.6 122.5,278.7 122.7,277.7 122.9,276.7 123.0,275.7 123.2,274.7 123.3,273.7 123.5,272.7 123.6,271.7 123.8,270.7 123.9,269.7 124.0,268.7 124.1,267.7 124.2,266.7 124.3,265.8 124.4,264.8 124.5,263.8 124.6,262.8 124.7,261.8 124.8,260.8 124.9,259.8 125.0,258.8 125.1,257.8 125.1,256.8 125.2,255.8 125.3,254.8 125.4,253.8 125.4,252.8 125.5,251.8 125.6,250.8 125.7,249.8 125.8,248.8 125.9,247.8 125.9,246.8 126.0,245.8 126.1,244.8 126.2,243.8 126.4,242.8 126.5,241.8 126.6,240.8 126.8,239.8 126.9,238.8 127.1,237.8 127.2,236.8 127.4,235.8 127.5,234.8 127.7,233.9 127.9,232.9 128.0,231.9 128.2,230.9 128.3,229.9 128.5,228.9 128.6,227.9 128.8,226.9 128.9,225.9 129.1,224.9 129.2,223.9 129.4,223.0 129.5,222.0 129.7,221.0 129.8,220.0 130.0,219.0 130.1,218.0 130.3,217.0 130.4,216.0 130.6,215.0 130.7,214.0 130.9,213.0 131.0,212.1 131.2,211.1 131.3,210.1 131.5,209.1 131.6,208.1 131.8,207.1 132.0,206.1 132.1,205.1 132.3,204.1 132.4,203.1 132.6,202.2 132.8,201.2 132.9,200.2 133.1,199.2 133.2,198.2 133.4,197.2 133.5,196.2 133.7,195.2 133.8,194.2 134.0,193.2 134.1,192.2 134.3,191.2 134.4,190.3 134.6,189.3 134.7,188.3 134.8,187.3 135.0,186.3 135.2,185.3 135.3,184.3 135.5,183.3 135.6,182.3 135.8,181.3 135.9,180.3 136.1,179.4 136.2,178.4 136.4,177.4 136.6,176.4 136.7,175.4 136.9,174.4 137.1,173.4 137.3,172.5 137.6,171.5 137.8,170.5 138.0,169.5 138.2,168.5 138.3,167.5 138.4,166.5 138.5,165.5 138.6,164.5 138.7,163.5 138.8,162.5 138.9,161.5 139.0,160.6 139.1,159.6 139.2,158.6 139.2,157.6 139.3,156.6 139.4,155.6 139.5,154.6 139.6,153.6 139.7,152.6 139.8,151.6 139.9,150.6 140.0,149.6 140.1,148.6 140.2,147.6 140.3,146.6 140.4,145.6 140.5,144.6 140.6,143.6 140.7,142.6 140.8,141.6 140.9,140.6 141.0,139.6 141.1,138.6 141.2,137.6 141.3,136.6 141.4,135.6 141.5,134.6 141.6,133.6 141.7,132.6 141.9,131.6 142.0,130.6 142.0,129.6 142.1,128.6 142.2,127.6 142.3,126.6 142.4,125.6 142.5,124.6 142.5,123.6 142.6,122.6 142.7,121.6 142.8,120.6 142.8,119.6 142.9,118.6 143.0,117.6 143.2,116.6 143.3,115.6 143.4,114.6 143.5,113.7 143.7,112.7 143.8,111.7 143.9,110.7 144.1,109.7 144.2,108.7 144.4,107.7 144.5,106.7 144.6,105.7 144.8,104.7 144.9,103.7 145.1,102.7 145.3,101.7 145.4,100.8 145.6,99.8 145.8,98.8 146.0,97.8 146.2,96.8 146.4,95.8 146.6,94.9 146.9,93.9 147.1,92.9 147.3,91.9 147.6,91.0 147.9,90.0 148.2,89.1 148.6,88.2 149.1,87.3 149.6,86.4 150.2,85.6 150.8,84.8 151.6,84.2 152.6,84.5 153.3,85.2 153.9,86.0 154.4,86.8 154.9,87.7 155.3,88.6 155.7,89.6 156.1,90.5 156.5,91.4 156.8,92.3 157.2,93.3 157.5,94.2 157.9,95.2 158.2,96.1 158.5,97.1 158.7,98.0 159.0,99.0 159.2,100.0 159.4,101.0 159.6,102.0 159.9,102.9 160.1,103.9 160.3,104.9 160.5,105.9 160.7,106.9 160.9,107.8 161.1,108.8 161.3,109.8 161.5,110.8 161.6,111.8 161.8,112.8 162.0,113.8 162.2,114.7 162.3,115.7 162.5,116.7 162.7,117.7 162.8,118.7 163.0,119.7 163.1,120.7 163.3,121.7 163.4,122.7 163.5,123.7 163.7,124.6 163.8,125.6 163.9,126.6 164.0,127.6 164.1,128.6 164.2,129.6 164.3,130.6 164.4,131.6 164.5,132.6 164.5,133.6 164.6,134.6 164.7,135.6 164.8,136.6 164.9,137.6 165.1,138.6 165.2,139.6 165.4,140.6 165.5,141.6 165.7,142.6 165.8,143.6 166.0,144.6 166.1,145.6 166.2,146.5 166.4,147.5 166.5,148.5 166.7,149.5 166.8,150.5 166.9,151.5 167.1,152.5 167.2,153.5 167.3,154.5 167.4,155.5 167.6,156.5 167.7,157.5 167.9,158.5 168.1,159.5 168.2,160.4 168.4,161.4 168.5,162.4 168.7,163.4 168.8,164.4 168.9,165.4 169.0,166.4 169.2,167.4 169.3,168.4 169.5,169.4 169.6,170.4 169.8,171.4 169.9,172.3 170.1,173.3 170.3,174.3 170.4,175.3 170.6,176.3 170.7,177.3 170.9,178.3 171.1,179.3 171.2,180.3 171.4,181.3 171.5,182.3 171.7,183.2 171.8,184.2 172.0,185.2 172.1,186.2 172.2,187.2 172.4,188.2 172.5,189.2 172.6,190.2 172.7,191.2 172.9,192.2 173.0,193.2 173.1,194.2 173.2,195.2 173.4,196.2 173.5,197.2 173.6,198.2 173.7,199.2 173.8,200.1 174.0,201.1 174.1,202.1 174.2,203.1 174.3,204.1 174.4,205.1 174.6,206.1 174.7,207.1 174.8,208.1 174.9,209.1 175.0,210.1 175.1,211.1 175.3,212.1 175.4,213.1 175.5,214.1 175.6,215.1 175.7,216.1 175.8,217.1 175.9,218.1 176.0,219.1 176.1,220.1 176.2,221.1 176.3,222.1 176.3,223.1 176.4,224.1 176.5,225.1 176.6,226.1 176.7,227.1 176.8,228.1 176.9,229.1 177.0,230.1 177.1,231.1 177.2,232.1 177.3,233.0 177.4,234.0 177.5,235.0 177.6,236.0 177.7,237.0 177.8,238.0 177.9,239.0 178.0,240.0 178.2,241.0 178.3,242.0 178.4,243.0 178.5,244.0 178.6,245.0 178.7,246.0 178.8,247.0 178.9,248.0 179.0,249.0 179.1,250.0 179.2,251.0 179.3,252.0 179.5,253.0 179.6,254.0 179.7,255.0 179.8,256.0 180.0,257.0 180.2,257.9 180.3,258.9 180.5,259.9 180.8,260.9 181.0,261.9 181.2,262.8 181.5,263.8 181.7,264.8 182.0,265.8 182.2,266.7 182.5,267.7 182.7,268.7 182.9,269.7 183.2,270.6 183.4,271.6 183.6,272.6 183.8,273.6 184.0,274.6 184.2,275.5 184.4,276.5 184.6,277.5 184.8,278.5 185.0,279.5 185.1,280.5 185.3,281.4 185.5,282.4 185.7,283.4 185.9,284.4 186.1,285.4 186.3,286.4 186.5,287.3 186.7,288.3 186.9,289.3 187.1,290.3 187.2,291.3 187.4,292.3 187.6,293.3 187.8,294.2 188.0,295.2 188.2,296.2 188.4,297.2 188.6,298.2 188.8,299.2 189.0,300.1 189.2,301.1 189.4,302.1 189.6,303.1 189.9,304.0 190.1,305.0 190.4,306.0 190.7,307.0 190.9,307.9 191.2,308.9 191.5,309.9 191.7,310.8 192.0,311.8 192.3,312.8 192.5,313.7 192.8,314.7 193.1,315.6 193.4,316.6 193.7,317.6 194.0,318.5 194.2,319.5 194.5,320.4 194.8,321.4 195.1,322.4 195.4,323.3 195.7,324.3 196.0,325.2 196.3,326.2 196.6,327.1 196.9,328.1 197.2,329.1 197.5,330.0 197.9,331.0 198.2,331.9 198.5,332.8 198.9,333.8 199.3,334.7 199.7,335.6 200.1,336.5 200.5,337.4 201.0,338.3 201.4,339.2 201.9,340.1 202.4,341.0 202.8,341.9 203.3,342.8 203.7,343.7 204.2,344.6 204.6,345.5 205.1,346.4 205.6,347.2 206.2,348.1 206.8,348.9 207.4,349.7 208.0,350.4 208.7,351.2 209.4,351.9 210.1,352.6 210.8,353.3 211.6,353.9 212.4,354.5 213.3,355.1 214.1,355.6 215.0,356.1 215.9,356.5 216.8,357.0 217.7,357.4 218.6,357.8 219.6,358.1 220.5,358.5 221.5,358.8 222.4,359.1 223.4,359.4 224.3,359.7 225.3,359.9 226.3,360.2 227.2,360.5 228.2,360.8 229.2,361.0 230.1,361.2 231.1,361.5 232.1,361.7 233.1,361.9 234.1,362.1 235.0,362.3 236.0,362.4 237.0,362.6 238.0,362.7 239.0,362.9 240.0,363.0 241.0,363.1 242.0,363.3 243.0,363.4 244.0,363.5 245.0,363.6 246.0,363.7 247.0,363.8 248.0,363.9 249.0,363.9 250.0,364.0 251.0,364.1 252.0,364.1 253.0,364.2 254.0,364.2 255.0,364.3 256.0,364.3 257.0,364.4 258.0,364.4 259.0,364.4 260.0,364.5 261.0,364.5 262.0,364.5 263.0,364.6 264.0,364.6 265.0,364.6" stroke-width="2.1"/>
<path d="M214.0,364.0 215.0,363.9 216.0,363.7 217.0,363.6 218.0,363.4 219.0,363.3 219.9,363.1 220.9,362.9 221.9,362.7 222.9,362.5 223.9,362.3 224.9,362.1 225.8,361.8 226.8,361.6 227.8,361.3 228.7,361.0 229.7,360.7 230.6,360.4 231.6,360.0 232.5,359.7 233.4,359.3 234.3,358.9 235.2,358.4 236.1,357.9 237.0,357.4 237.8,356.9 238.6,356.3 239.4,355.7 240.2,355.1 241.1,354.5 241.9,353.9 242.7,353.4 243.5,352.8 244.3,352.2 245.1,351.6 245.9,350.9 246.6,350.3 247.4,349.6 248.1,348.9 248.8,348.2 249.5,347.5 250.2,346.8 250.9,346.0 251.6,345.3 252.3,344.6 253.0,343.9 253.7,343.2 254.4,342.5 255.2,341.8 255.9,341.1 256.6,340.4 257.3,339.7 258.0,339.0 258.7,338.2 259.4,337.5 260.0,336.7 260.7,336.0 261.3,335.2 262.0,334.4 262.6,333.7 263.2,332.9 263.8,332.1 264.4,331.3 265.0,330.4 265.5,329.6 266.1,328.8 266.6,327.9 267.1,327.0 267.6,326.2 268.1,325.3 268.6,324.4 269.0,323.5 269.5,322.6 270.0,321.7 270.4,320.9 270.9,320.0 271.4,319.1 271.8,318.2 272.3,317.3 272.7,316.4 273.2,315.5 273.6,314.6 274.1,313.7 274.5,312.8 275.0,311.9 275.4,311.0 275.9,310.1 276.3,309.2 276.8,308.3 277.2,307.4 277.7,306.6 278.2,305.7 278.6,304.8 279.1,303.9 279.6,303.0 280.0,302.1 280.5,301.2 281.0,300.4 281.5,299.5 282.0,298.6 282.5,297.8 283.0,296.9 283.6,296.1 284.1,295.2 284.7,294.4 285.3,293.6 286.0,292.9 286.7,292.1 287.3,291.4 287.9,290.5 288.4,289.7 288.8,288.8 289.2,287.8 289.6,286.9 290.0,286.0 290.3,285.0 290.7,284.1 291.0,283.2 291.4,282.2 291.8,281.3 292.1,280.4 292.5,279.5 292.9,278.5 293.3,277.6 293.7,276.7 294.2,275.8 294.6,274.9 295.0,274.0 295.4,273.0 295.8,272.1 296.1,271.2 296.5,270.3 296.9,269.3 297.2,268.4 297.5,267.4 297.9,266.5 298.2,265.5 298.6,264.6 298.9,263.7 299.2,262.7 299.5,261.7 299.8,260.8 300.1,259.8 300.4,258.9 300.7,257.9 300.9,256.9 301.2,256.0 301.4,255.0 301.6,254.0 301.8,253.0 302.0,252.0 302.2,251.1 302.3,250.1 302.5,249.1 302.6,248.1 302.8,247.1 303.0,246.1 303.1,245.1 303.3,244.1 303.5,243.1 303.7,242.2 303.8,241.2 304.0,240.2 304.2,239.2 304.4,238.2 304.5,237.2 304.7,236.2 304.9,235.3 305.1,234.3 305.3,233.3 305.6,232.3 305.8,231.4 306.1,230.4 306.4,229.4 306.7,228.5 307.0,227.5 307.3,226.6 307.6,225.6 307.9,224.6 308.1,223.7 308.4,222.7 308.7,221.7 309.0,220.8 309.4,219.9 309.9,219.0 310.4,218.2 311.0,217.3 311.6,216.5 312.2,215.7 312.7,214.8 313.2,214.0 313.7,213.1 314.2,212.2 314.6,211.3 315.1,210.4 315.5,209.5 315.9,208.6 316.4,207.7 316.8,206.8 317.2,205.9 317.6,205.0 318.0,204.0 318.5,203.2 319.0,202.3 319.6,201.5 320.2,200.7 320.9,200.0 321.7,199.3 322.5,198.7 323.4,198.3 324.4,198.4 325.3,198.7 326.2,199.2 327.0,199.8 327.7,200.5 328.3,201.3 328.8,202.2 329.1,203.1 329.5,204.1 329.8,205.0 330.2,206.0 330.6,206.9 331.0,207.8 331.4,208.7 331.7,209.6 332.1,210.6 332.5,211.5 332.9,212.4 333.2,213.4 333.6,214.3 334.0,215.2 334.3,216.2 334.7,217.1 335.0,218.1 335.4,219.0 335.7,219.9 336.1,220.9 336.4,221.8 336.7,222.8 337.1,223.7 337.4,224.7 337.7,225.6 338.0,226.6 338.3,227.5 338.6,228.5 338.9,229.4 339.1,230.4 339.4,231.4 339.7,232.4 339.9,233.3 340.1,234.3 340.4,235.3 340.6,236.3 340.8,237.2 341.0,238.2 341.2,239.2 341.4,240.2 341.5,241.2 341.7,242.2 341.9,243.1 342.0,244.1 342.2,245.1 342.4,246.1 342.6,247.1 342.9,248.1 343.1,249.0 343.3,250.0 343.6,251.0 343.8,252.0 344.1,252.9 344.3,253.9 344.5,254.9 344.7,255.9 344.9,256.9 345.0,257.8 345.2,258.8 345.3,259.8 345.5,260.8 345.6,261.8 345.7,262.8 345.9,263.8 346.0,264.8 346.1,265.8 346.3,266.8 346.4,267.8 346.6,268.8 346.7,269.8 346.9,270.7 347.1,271.7 347.2,272.7 347.4,273.7 347.6,274.7 347.8,275.7 348.0,276.7 348.2,277.6 348.4,278.6 348.6,279.6 348.8,280.6 349.0,281.6 349.2,282.6 349.4,283.5 349.6,284.5 349.8,285.5 350.1,286.5 350.3,287.4 350.5,288.4 350.8,289.4 351.0,290.4 351.3,291.3 351.6,292.3 351.8,293.3 352.1,294.2 352.4,295.2 352.7,296.1 352.9,297.1 353.2,298.1 353.5,299.0 353.8,300.0 354.1,301.0 354.4,301.9 354.7,302.9 355.0,303.8 355.3,304.8 355.6,305.7 355.9,306.7 356.2,307.6 356.6,308.6 356.9,309.5 357.3,310.4 357.7,311.4 358.1,312.3 358.4,313.2 358.8,314.2 359.1,315.1 359.4,316.1 359.7,317.0 359.9,318.0 360.2,319.0 360.4,320.0 360.6,320.9 360.8,321.9 361.1,322.9 361.3,323.9 361.5,324.8 361.7,325.8 362.0,326.8 362.2,327.8 362.5,328.7 362.7,329.7 363.1,330.7 363.4,331.6 363.7,332.5 364.1,333.5 364.5,334.4 364.9,335.3 365.3,336.2 365.8,337.1 366.2,338.0 366.7,338.9 367.2,339.8 367.7,340.7 368.2,341.5 368.7,342.4 369.2,343.2 369.8,344.1 370.4,344.9 371.0,345.7 371.6,346.5 372.2,347.2 372.9,348.0 373.6,348.7 374.3,349.4 375.1,350.0 375.8,350.7 376.6,351.3 377.4,351.9 378.2,352.6 379.0,353.1 379.8,353.7 380.7,354.3 381.5,354.8 382.4,355.3 383.2,355.9 384.1,356.4 385.0,356.9 385.9,357.3 386.7,357.8 387.6,358.2 388.5,358.7 389.5,359.1 390.4,359.5 391.3,359.9 392.3,360.2 393.2,360.5 394.2,360.8 395.1,361.1 396.1,361.4 397.1,361.6 398.0,361.8 399.0,362.0 400.0,362.2 401.0,362.4 402.0,362.5 403.0,362.6 404.0,362.7 405.0,362.8 406.0,362.9 407.0,363.0 408.0,363.1 409.0,363.2 410.0,363.3 411.0,363.4 412.0,363.4 413.0,363.5 414.0,363.6 415.0,363.6 416.0,363.7 417.0,363.8 418.0,363.8 419.0,363.9 420.0,363.9 421.0,364.0 422.0,364.0 423.0,364.0 424.0,364.1 425.0,364.1 426.0,364.1 427.0,364.2 428.0,364.2 429.0,364.2 430.0,364.3 431.0,364.3 432.0,364.3" stroke-width="2" stroke-dasharray="1.3 1.8"/>
<path d="M212.0,363.5 213.0,363.4 214.0,363.2 215.0,363.1 216.0,362.9 217.0,362.8 218.0,362.6 218.9,362.5 219.9,362.3 220.9,362.2 221.9,362.0 222.9,361.9 223.9,361.7 224.9,361.5 225.9,361.3 226.9,361.1 227.8,360.9 228.8,360.6 229.8,360.3 230.7,360.0 231.7,359.7 232.6,359.3 233.5,358.9 234.4,358.3 235.2,357.8 236.0,357.2 236.8,356.6 237.5,355.9 238.3,355.3 239.1,354.6 239.8,353.9 240.5,353.2 241.2,352.5 241.9,351.7 242.5,351.0 243.2,350.2 243.8,349.4 244.3,348.6 244.8,347.7 245.4,346.9 245.9,346.0 246.4,345.1 246.9,344.3 247.5,343.4 248.1,342.6 248.6,341.8 249.2,341.0 249.9,340.2 250.5,339.4 251.1,338.6 251.7,337.9 252.4,337.1 253.0,336.3 253.7,335.6 254.4,334.8 255.0,334.1 255.7,333.4 256.5,332.7 257.2,332.0 257.9,331.3 258.6,330.6 259.3,329.9 260.0,329.2 260.7,328.4 261.4,327.7 262.1,327.0 262.9,326.3 263.6,325.6 264.2,324.8 264.9,324.1 265.6,323.4 266.2,322.6 266.9,321.8 267.4,321.0 268.0,320.2 268.6,319.3 269.1,318.5 269.6,317.6 270.1,316.7 270.5,315.8 271.0,314.9 271.5,314.0 271.9,313.2 272.4,312.3 272.9,311.4 273.3,310.5 273.8,309.6 274.3,308.8 274.8,307.9 275.3,307.0 275.9,306.2 276.4,305.3 276.8,304.4 277.3,303.5 277.8,302.6 278.2,301.7 278.7,300.8 279.0,299.9 279.4,299.0 279.7,298.0 280.0,297.1 280.3,296.1 280.6,295.2 281.0,294.2 281.3,293.3 281.6,292.3 282.0,291.4 282.4,290.4 282.7,289.5 283.1,288.6 283.5,287.6 283.8,286.7 284.2,285.8 284.5,284.8 284.8,283.9 285.2,282.9 285.5,282.0 285.7,281.0 286.0,280.0 286.3,279.1 286.6,278.1 286.9,277.2 287.2,276.2 287.5,275.2 287.8,274.3 288.1,273.3 288.4,272.4 288.7,271.4 289.0,270.4 289.3,269.5 289.6,268.5 289.9,267.6 290.2,266.6 290.5,265.7 290.8,264.7 291.1,263.8 291.4,262.8 291.7,261.8 292.0,260.9 292.3,259.9 292.6,259.0 292.9,258.0 293.2,257.0 293.5,256.1 293.8,255.1 294.0,254.2 294.3,253.2 294.6,252.2 294.9,251.3 295.2,250.3 295.5,249.3 295.8,248.4 296.1,247.4 296.4,246.5 296.7,245.5 297.1,244.6 297.4,243.7 297.8,242.7 298.2,241.8 298.6,240.9 299.0,240.0 299.4,239.0 299.8,238.1 300.2,237.2 300.6,236.3 301.0,235.4 301.3,234.4 301.7,233.5 302.0,232.5 302.4,231.6 302.8,230.7 303.1,229.7 303.5,228.8 303.9,227.9 304.3,227.0 304.7,226.0 305.1,225.1 305.6,224.2 306.0,223.3 306.5,222.5 307.1,221.6 307.7,220.9 308.4,220.1 309.1,219.4 309.8,218.7 310.6,218.0 311.2,217.3 311.9,216.5 312.5,215.7 313.1,214.9 313.6,214.1 314.2,213.2 314.7,212.4 315.3,211.6 315.9,210.8 316.5,210.0 317.1,209.2 317.7,208.3 318.3,207.5 318.9,206.7 319.6,206.0 320.5,205.5 321.5,205.6 322.4,206.1 323.2,206.7 323.9,207.4 324.6,208.1 325.2,208.9 325.8,209.7 326.2,210.6 326.7,211.5 327.1,212.4 327.5,213.3 327.9,214.3 328.3,215.2 328.6,216.1 329.0,217.1 329.3,218.0 329.6,218.9 329.9,219.9 330.2,220.9 330.5,221.8 330.8,222.8 331.1,223.7 331.4,224.7 331.7,225.7 332.0,226.6 332.3,227.6 332.6,228.5 332.9,229.5 333.2,230.4 333.5,231.4 333.8,232.4 334.1,233.3 334.3,234.3 334.5,235.3 334.7,236.3 334.8,237.3 335.0,238.3 335.1,239.3 335.2,240.3 335.3,241.3 335.4,242.3 335.5,243.2 335.6,244.2 335.8,245.2 335.9,246.2 336.2,247.2 336.4,248.2 336.7,249.1 337.1,250.1 337.4,251.0 337.8,252.0 338.1,252.9 338.3,253.9 338.6,254.9 338.8,255.8 339.1,256.8 339.3,257.8 339.5,258.8 339.8,259.7 340.0,260.7 340.2,261.7 340.4,262.7 340.6,263.7 340.8,264.6 341.0,265.6 341.2,266.6 341.4,267.6 341.6,268.6 341.8,269.6 342.0,270.5 342.2,271.5 342.5,272.5 342.7,273.5 342.9,274.4 343.2,275.4 343.4,276.4 343.7,277.4 343.9,278.3 344.2,279.3 344.5,280.3 344.7,281.2 345.0,282.2 345.3,283.2 345.5,284.1 345.8,285.1 346.1,286.1 346.3,287.0 346.6,288.0 346.8,289.0 347.1,289.9 347.3,290.9 347.6,291.9 347.9,292.9 348.1,293.8 348.4,294.8 348.6,295.8 348.9,296.7 349.2,297.7 349.5,298.7 349.8,299.6 350.1,300.6 350.5,301.5 350.9,302.4 351.3,303.3 351.8,304.2 352.2,305.1 352.7,306.0 353.1,306.9 353.5,307.8 353.9,308.8 354.2,309.7 354.6,310.6 354.9,311.6 355.2,312.6 355.5,313.5 355.8,314.5 356.1,315.4 356.4,316.4 356.7,317.3 357.0,318.3 357.3,319.3 357.6,320.2 357.9,321.2 358.2,322.1 358.5,323.1 358.8,324.0 359.2,325.0 359.5,325.9 359.9,326.8 360.3,327.8 360.7,328.7 361.1,329.6 361.5,330.5 361.9,331.4 362.3,332.4 362.8,333.3 363.2,334.2 363.7,335.0 364.1,335.9 364.6,336.8 365.1,337.7 365.6,338.5 366.2,339.4 366.7,340.2 367.3,341.1 367.8,341.9 368.4,342.7 369.0,343.5 369.7,344.3 370.3,345.0 371.0,345.8 371.7,346.5 372.5,347.2 373.2,347.8 373.9,348.5 374.7,349.2 375.4,349.9 376.2,350.5 376.9,351.2 377.6,351.9 378.3,352.6 379.1,353.3 379.8,354.0 380.6,354.6 381.4,355.2 382.2,355.8 383.1,356.3 383.9,356.9 384.8,357.4 385.7,357.9 386.5,358.3 387.4,358.8 388.4,359.2 389.3,359.6 390.2,359.9 391.2,360.3 392.1,360.6 393.1,360.9 394.1,361.1 395.0,361.4 396.0,361.6 397.0,361.8 398.0,361.9 399.0,362.1 400.0,362.2 401.0,362.4 402.0,362.5 403.0,362.6 404.0,362.7 404.9,362.8 405.9,362.9 406.9,363.0 407.9,363.1 408.9,363.1 409.9,363.2 411.0,363.3 412.0,363.4 413.0,363.4 414.0,363.5 415.0,363.5 416.0,363.6 417.0,363.7 418.0,363.7 419.0,363.8 420.0,363.8 421.0,363.8 422.0,363.9 423.0,363.9 424.0,364.0 425.0,364.0 426.0,364.0 427.0,364.1 428.0,364.1 429.0,364.1 430.0,364.2 431.0,364.2 432.0,364.2" stroke-width="2.1" stroke-dasharray="4.5 1.8 1.3 1.8"/>
<path d="M196.0,363.0 196.9,362.6 197.9,362.3 198.8,362.0 199.8,361.6 200.7,361.3 201.7,361.0 202.7,360.8 203.6,360.5 204.6,360.3 205.6,360.0 206.6,359.8 207.6,359.6 208.5,359.4 209.5,359.2 210.5,359.0 211.5,358.7 212.4,358.4 213.3,358.0 214.2,357.5 215.1,357.0 215.9,356.5 216.8,356.0 217.6,355.4 218.5,354.9 219.3,354.4 220.2,353.8 221.0,353.3 221.8,352.6 222.6,352.0 223.3,351.3 224.1,350.7 224.8,349.9 225.5,349.2 226.1,348.4 226.7,347.6 227.3,346.8 227.8,346.0 228.4,345.2 229.0,344.4 229.7,343.6 230.2,342.8 230.8,341.9 231.3,341.0 231.7,340.1 232.2,339.2 232.6,338.3 233.0,337.4 233.5,336.5 233.9,335.6 234.3,334.7 234.8,333.8 235.2,332.9 235.7,332.0 236.1,331.1 236.6,330.2 237.0,329.3 237.5,328.4 238.0,327.5 238.5,326.7 238.9,325.8 239.5,324.9 240.0,324.0 240.5,323.2 241.0,322.3 241.5,321.5 242.0,320.6 242.5,319.7 243.1,318.9 243.6,318.0 244.1,317.1 244.5,316.3 245.0,315.4 245.5,314.5 246.0,313.6 246.4,312.7 246.9,311.8 247.3,310.9 247.7,310.0 248.1,309.1 248.5,308.1 248.8,307.2 249.1,306.2 249.4,305.3 249.7,304.3 249.9,303.3 250.2,302.4 250.5,301.4 250.8,300.5 251.2,299.5 251.7,298.7 252.2,297.8 252.7,296.9 253.2,296.1 253.7,295.2 254.2,294.3 254.7,293.4 255.2,292.6 255.7,291.7 256.2,290.8 256.7,290.0 257.2,289.1 257.7,288.2 258.3,287.4 258.9,286.6 259.5,285.8 260.3,285.2 261.2,284.6 262.0,284.2 263.0,283.7 263.9,283.4 264.8,283.0 265.8,282.8 266.8,282.6 267.8,282.3 268.7,281.9 269.4,281.2 270.0,280.4 270.6,279.6 271.1,278.7 271.6,277.9 272.1,277.0 272.6,276.1 273.0,275.2 273.5,274.3 274.0,273.5 274.5,272.6 275.1,271.8 275.6,270.9 276.2,270.1 276.8,269.3 277.4,268.4 277.9,267.6 278.5,266.8 279.2,266.0 279.8,265.3 280.4,264.5 281.1,263.7 281.8,263.0 282.4,262.2 283.1,261.5 283.8,260.8 284.5,260.0 285.2,259.3 285.9,258.6 286.6,257.9 287.3,257.2 288.1,256.6 288.9,256.0 289.8,255.4 290.6,254.9 291.4,254.3 292.2,253.6 292.9,252.9 293.5,252.1 294.1,251.3 294.7,250.5 295.2,249.6 295.6,248.7 296.1,247.8 296.5,246.9 296.9,246.0 297.2,245.0 297.5,244.1 297.8,243.1 298.0,242.1 298.2,241.1 298.5,240.2 298.8,239.2 299.0,238.2 299.4,237.3 299.8,236.4 300.2,235.5 300.7,234.6 301.1,233.7 301.6,232.8 302.0,231.9 302.4,231.0 302.7,230.0 303.0,229.0 303.3,228.1 303.6,227.1 303.8,226.1 304.1,225.2 304.5,224.2 304.9,223.3 305.3,222.4 305.8,221.5 306.4,220.7 307.0,219.9 307.7,219.2 308.5,218.6 309.4,218.2 310.4,217.8 311.3,217.4 312.2,217.1 313.2,216.7 314.1,216.4 315.1,216.1 316.0,215.8 317.0,215.5 317.9,215.2 318.9,214.8 319.8,214.4 320.7,213.9 321.6,213.6 322.6,213.5 323.6,213.7 324.5,214.1 325.4,214.6 326.2,215.2 327.0,215.9 327.6,216.7 328.1,217.5 328.5,218.4 328.9,219.4 329.2,220.3 329.5,221.3 329.9,222.2 330.2,223.2 330.5,224.1 330.8,225.1 331.2,226.0 331.5,226.9 331.9,227.9 332.3,228.8 332.6,229.8 333.0,230.7 333.3,231.7 333.5,232.6 333.7,233.6 333.9,234.6 334.0,235.6 334.1,236.6 334.1,237.6 334.2,238.6 334.2,239.6 334.3,240.6 334.4,241.6 334.5,242.6 334.6,243.6 334.8,244.6 335.1,245.6 335.4,246.5 335.7,247.5 336.1,248.4 336.4,249.4 336.7,250.3 337.0,251.3 337.2,252.3 337.5,253.2 337.8,254.2 338.0,255.2 338.2,256.2 338.4,257.1 338.6,258.1 338.8,259.1 338.9,260.1 339.1,261.1 339.3,262.1 339.4,263.1 339.6,264.1 339.7,265.1 339.9,266.1 340.0,267.1 340.2,268.0 340.4,269.0 340.5,270.0 340.7,271.0 340.9,272.0 341.2,273.0 341.4,273.9 341.6,274.9 341.9,275.9 342.1,276.9 342.3,277.8 342.6,278.8 342.9,279.8 343.1,280.8 343.4,281.7 343.6,282.7 343.9,283.7 344.2,284.6 344.4,285.6 344.7,286.6 345.0,287.5 345.2,288.5 345.5,289.5 345.7,290.5 346.0,291.4 346.2,292.4 346.5,293.4 346.8,294.3 347.0,295.3 347.3,296.3 347.6,297.2 347.9,298.2 348.2,299.1 348.6,300.1 348.9,301.0 349.3,302.0 349.7,302.9 350.2,303.7 350.7,304.6 351.2,305.5 351.6,306.4 352.0,307.3 352.4,308.3 352.7,309.2 353.0,310.2 353.3,311.1 353.6,312.1 353.9,313.0 354.2,314.0 354.5,315.0 354.8,315.9 355.0,316.9 355.3,317.9 355.6,318.8 355.9,319.8 356.2,320.8 356.5,321.7 356.8,322.7 357.1,323.6 357.4,324.6 357.8,325.5 358.1,326.5 358.5,327.4 358.8,328.3 359.2,329.2 359.6,330.2 360.0,331.1 360.4,332.0 360.9,332.9 361.3,333.8 361.7,334.7 362.2,335.6 362.7,336.5 363.1,337.4 363.7,338.3 364.2,339.1 364.7,339.9 365.3,340.8 365.9,341.6 366.5,342.4 367.1,343.2 367.8,343.9 368.5,344.7 369.2,345.4 369.9,346.1 370.6,346.8 371.4,347.4 372.2,348.1 372.9,348.7 373.7,349.3 374.5,350.0 375.3,350.6 376.0,351.3 376.8,351.9 377.6,352.5 378.5,353.0 379.3,353.6 380.2,354.0 381.1,354.5 382.0,354.9 382.9,355.3 383.9,355.7 384.8,356.1 385.7,356.5 386.7,356.8 387.6,357.2 388.5,357.5 389.5,357.9 390.4,358.2 391.4,358.5 392.3,358.8 393.3,359.2 394.2,359.5 395.2,359.7 396.2,360.0 397.1,360.3 398.1,360.6 399.1,360.9 400.0,361.1 401.0,361.3 402.0,361.5 403.0,361.7 404.0,361.9 405.0,362.0 406.0,362.1 407.0,362.3 408.0,362.4 409.0,362.5 410.0,362.6 411.0,362.7 412.0,362.8 413.0,362.9 414.0,363.0 415.0,363.1 416.0,363.2 417.0,363.3 418.0,363.4 419.0,363.5 420.0,363.6 421.0,363.6 422.0,363.7 423.0,363.8 424.0,363.8 425.0,363.9 426.0,363.9 427.0,364.0 428.0,364.0 429.0,364.1 430.0,364.1 431.0,364.1 432.0,364.2 433.0,364.2 434.0,364.2" stroke-width="2.4" stroke-dasharray="6 2"/>
<path d="M222.0,364.0 223.0,363.8 224.0,363.6 224.9,363.4 225.9,363.2 226.9,363.0 227.9,362.8 228.9,362.6 229.8,362.3 230.8,362.1 231.8,361.9 232.8,361.6 233.7,361.4 234.7,361.1 235.7,360.9 236.6,360.6 237.6,360.3 238.6,360.0 239.5,359.7 240.5,359.4 241.4,359.1 242.3,358.7 243.2,358.3 244.1,357.8 245.0,357.3 245.9,356.8 246.7,356.3 247.5,355.7 248.3,355.1 249.1,354.4 249.8,353.7 250.5,353.0 251.2,352.3 251.8,351.5 252.5,350.7 253.1,349.9 253.6,349.1 254.1,348.2 254.6,347.4 255.1,346.5 255.6,345.6 256.0,344.7 256.5,343.8 256.9,342.9 257.3,341.9 257.6,341.0 258.0,340.1 258.3,339.1 258.6,338.2 258.9,337.2 259.3,336.3 259.6,335.3 259.9,334.4 260.2,333.4 260.6,332.5 260.9,331.5 261.2,330.6 261.5,329.6 261.8,328.7 262.1,327.7 262.4,326.8 262.8,325.8 263.1,324.9 263.4,323.9 263.7,322.9 264.0,322.0 264.3,321.0 264.5,320.1 264.8,319.1 265.1,318.1 265.4,317.2 265.7,316.2 265.9,315.3 266.2,314.3 266.4,313.3 266.6,312.3 266.8,311.3 267.0,310.4 267.2,309.4 267.3,308.4 267.4,307.4 267.5,306.4 267.6,305.4 267.7,304.4 267.8,303.4 268.0,302.4 268.1,301.4 268.3,300.4 268.4,299.4 268.6,298.4 268.8,297.5 269.0,296.5 269.2,295.5 269.3,294.5 269.5,293.5 269.7,292.5 269.9,291.5 270.1,290.6 270.3,289.6 270.4,288.6 270.6,287.6 270.8,286.6 270.9,285.6 271.1,284.6 271.3,283.6 271.5,282.7 271.6,281.7 271.8,280.7 272.0,279.7 272.2,278.7 272.5,277.7 272.7,276.8 273.0,275.8 273.3,274.8 273.6,273.9 273.8,272.9 274.1,272.0 274.4,271.0 274.7,270.1 275.0,269.1 275.3,268.1 275.5,267.2 275.8,266.2 276.1,265.2 276.3,264.3 276.6,263.3 276.9,262.3 277.1,261.4 277.4,260.4 277.6,259.4 277.9,258.4 278.1,257.5 278.3,256.5 278.5,255.5 278.7,254.5 278.8,253.5 279.0,252.5 279.2,251.5 279.3,250.6 279.5,249.6 279.6,248.6 279.7,247.6 279.9,246.6 280.0,245.6 280.2,244.6 280.3,243.6 280.5,242.6 280.6,241.6 280.8,240.6 280.9,239.6 281.1,238.7 281.2,237.7 281.4,236.7 281.5,235.7 281.7,234.7 281.9,233.7 282.0,232.7 282.2,231.7 282.4,230.7 282.6,229.8 282.7,228.8 282.9,227.8 283.1,226.8 283.3,225.8 283.5,224.8 283.7,223.9 283.9,222.9 284.1,221.9 284.3,220.9 284.6,219.9 284.8,218.9 285.0,218.0 285.2,217.0 285.4,216.0 285.6,215.0 285.8,214.0 286.0,213.1 286.2,212.1 286.4,211.1 286.6,210.1 286.8,209.1 287.0,208.2 287.2,207.2 287.4,206.2 287.6,205.2 287.8,204.2 288.0,203.2 288.2,202.3 288.4,201.3 288.5,200.3 288.7,199.3 288.8,198.3 289.0,197.3 289.1,196.3 289.3,195.3 289.4,194.3 289.5,193.3 289.7,192.3 289.8,191.3 289.9,190.4 290.1,189.4 290.2,188.4 290.3,187.4 290.5,186.4 290.6,185.4 290.7,184.4 290.8,183.4 290.9,182.4 291.0,181.4 291.2,180.4 291.3,179.4 291.4,178.4 291.6,177.4 291.8,176.4 291.9,175.5 292.1,174.5 292.3,173.5 292.5,172.5 292.7,171.5 292.8,170.5 293.0,169.5 293.2,168.6 293.4,167.6 293.6,166.6 293.8,165.6 294.0,164.6 294.2,163.6 294.4,162.7 294.6,161.7 294.7,160.7 294.9,159.7 295.2,158.7 295.4,157.7 295.6,156.8 295.9,155.8 296.1,154.8 296.4,153.9 296.8,152.9 297.1,152.0 297.5,151.0 297.9,150.2 298.4,149.3 299.0,148.5 299.8,147.9 300.8,147.8 301.8,147.8 302.8,147.9 303.8,147.9 304.8,148.1 305.7,148.5 306.6,148.9 307.5,149.4 308.3,149.9 309.2,150.5 310.0,151.1 310.7,151.7 311.5,152.4 312.2,153.1 312.9,153.8 313.6,154.5 314.3,155.3 314.9,156.0 315.5,156.8 316.1,157.6 316.7,158.5 317.2,159.3 317.7,160.2 318.2,161.1 318.7,161.9 319.1,162.9 319.5,163.8 319.9,164.7 320.2,165.6 320.6,166.6 320.9,167.5 321.2,168.5 321.5,169.4 321.8,170.4 322.1,171.4 322.4,172.3 322.6,173.3 322.9,174.2 323.2,175.2 323.5,176.2 323.8,177.1 324.1,178.1 324.4,179.0 324.7,180.0 325.0,180.9 325.3,181.9 325.5,182.9 325.8,183.8 326.0,184.8 326.2,185.8 326.5,186.8 326.7,187.8 326.9,188.7 327.1,189.7 327.3,190.7 327.5,191.7 327.7,192.7 327.9,193.7 328.1,194.6 328.3,195.6 328.5,196.6 328.6,197.6 328.8,198.6 329.0,199.6 329.2,200.5 329.4,201.5 329.6,202.5 329.8,203.5 330.0,204.5 330.2,205.4 330.4,206.4 330.6,207.4 330.8,208.4 331.0,209.4 331.2,210.4 331.4,211.3 331.6,212.3 331.8,213.3 332.0,214.3 332.2,215.3 332.4,216.3 332.6,217.2 332.8,218.2 333.0,219.2 333.1,220.2 333.3,221.2 333.5,222.2 333.7,223.2 333.9,224.1 334.0,225.1 334.2,226.1 334.4,227.1 334.6,228.1 334.8,229.1 335.0,230.1 335.2,231.0 335.4,232.0 335.6,233.0 335.8,234.0 336.0,235.0 336.2,236.0 336.4,236.9 336.6,237.9 336.8,238.9 337.0,239.9 337.2,240.9 337.4,241.8 337.6,242.8 337.8,243.8 338.1,244.8 338.3,245.8 338.5,246.7 338.6,247.7 338.8,248.7 338.9,249.7 339.1,250.7 339.2,251.7 339.3,252.7 339.5,253.7 339.6,254.7 339.7,255.7 339.9,256.7 340.0,257.6 340.2,258.6 340.3,259.6 340.5,260.6 340.7,261.6 340.8,262.6 341.0,263.6 341.2,264.6 341.3,265.6 341.5,266.6 341.7,267.5 341.9,268.5 342.0,269.5 342.2,270.5 342.4,271.5 342.6,272.5 342.9,273.4 343.1,274.4 343.3,275.4 343.6,276.4 343.8,277.3 344.1,278.3 344.3,279.3 344.6,280.2 344.8,281.2 345.1,282.2 345.4,283.1 345.6,284.1 345.9,285.1 346.2,286.0 346.4,287.0 346.7,288.0 346.9,288.9 347.2,289.9 347.4,290.9 347.7,291.9 348.0,292.8 348.2,293.8 348.5,294.8 348.8,295.7 349.1,296.7 349.3,297.6 349.6,298.6 350.0,299.5 350.3,300.5 350.7,301.4 351.1,302.3 351.5,303.2 352.0,304.1 352.5,305.0 353.0,305.9 353.4,306.8 353.8,307.7 354.1,308.6 354.5,309.6 354.8,310.5 355.1,311.5 355.3,312.5 355.6,313.4 355.9,314.4 356.2,315.4 356.5,316.3 356.8,317.3 357.0,318.2 357.3,319.2 357.6,320.2 357.9,321.1 358.2,322.1 358.5,323.0 358.8,324.0 359.1,324.9 359.5,325.9 359.8,326.8 360.2,327.7 360.6,328.7 361.0,329.6 361.4,330.5 361.8,331.4 362.2,332.3 362.6,333.3 363.0,334.2 363.5,335.1 364.0,335.9 364.4,336.8 364.9,337.7 365.4,338.6 366.0,339.4 366.5,340.2 367.1,341.1 367.7,341.9 368.3,342.7 369.0,343.4 369.6,344.2 370.3,344.9 371.0,345.6 371.8,346.3 372.5,346.9 373.3,347.6 374.1,348.2 374.9,348.8 375.7,349.4 376.5,350.1 377.2,350.7 378.0,351.3 378.8,351.9 379.6,352.5 380.5,353.0 381.4,353.5 382.3,353.9 383.2,354.4 384.1,354.7 385.0,355.1 386.0,355.5 386.9,355.8 387.8,356.2 388.8,356.5 389.7,356.9 390.7,357.2 391.6,357.5 392.6,357.8 393.5,358.1 394.5,358.4 395.5,358.7 396.4,359.0 397.4,359.3 398.3,359.6 399.3,359.9 400.2,360.2 401.2,360.5 402.2,360.7 403.1,361.0 404.1,361.2 405.1,361.4 406.1,361.7 407.1,361.9 408.0,362.1 409.0,362.2 410.0,362.4 411.0,362.5 412.0,362.6 413.0,362.8 414.0,362.9 415.0,363.0 416.0,363.0 417.0,363.1 418.0,363.2 419.0,363.3 420.0,363.4 421.0,363.4 422.0,363.5 423.0,363.6 424.0,363.6 425.0,363.7 426.0,363.8 427.0,363.8 428.0,363.9 429.0,363.9 430.0,364.0 431.0,364.1 432.0,364.1 433.0,364.2 434.0,364.2" stroke-width="2.8"/>
</g>
</svg>
</body></html>
